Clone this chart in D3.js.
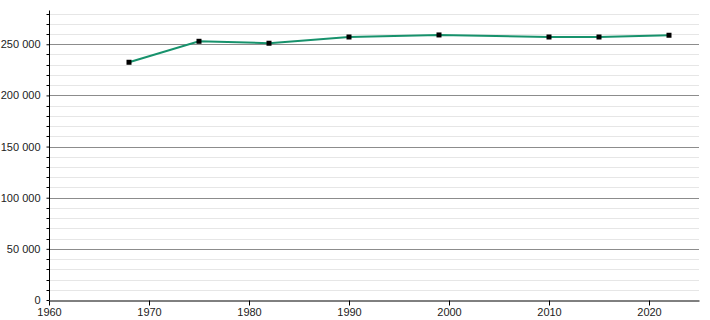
<!DOCTYPE html>
<html>
<head>
<meta charset="utf-8">
<script src="https://cdn.jsdelivr.net/npm/d3@7"></script>
<style>
    body { margin: 0; background: #fff; }
    text { font-family: "Liberation Sans", Arial, sans-serif; }
</style>
</head>
<body>
<div id="chart"></div>
<script>
// Population census values
const years = [1968, 1975, 1982, 1990, 1999, 2010, 2015, 2022];
const population = [232400, 252900, 251000, 257100, 259100, 257100, 257100, 258800];
const xTicks = [1960, 1970, 1980, 1990, 2000, 2010, 2020];
const yTicks = [0, 50000, 100000, 150000, 200000, 250000];

const width = 710, height = 320;
const margin = { top: 10.5, right: 11, bottom: 20, left: 49 };

const svg = d3.select('#chart')
    .append('svg')
    .attr('width', width)
    .attr('height', height);

const x = d3.scaleLinear()
    .domain([1960, 2025])
    .range([margin.left, width - margin.right]);

const y = d3.scaleLinear()
    .domain([0, 283000])
    .range([height - margin.bottom, margin.top]);

const fmt = v => d3.format(',')(v).replace(/,/g, ' ');

// Minor grid every 10 000
const minor = d3.range(10000, 283000, 10000).filter(v => v % 50000 !== 0);
svg.append('g')
    .selectAll('line')
    .data(minor)
    .join('line')
    .attr('x1', x(1960))
    .attr('x2', x(2025))
    .attr('y1', d => Math.round(y(d)) + 0.5)
    .attr('y2', d => Math.round(y(d)) + 0.5)
    .attr('stroke', '#e6e6e6')
    .attr('stroke-width', 1);

// Major grid
svg.append('g')
    .selectAll('line')
    .data(yTicks.filter(v => v > 0))
    .join('line')
    .attr('x1', x(1960))
    .attr('x2', x(2025))
    .attr('y1', d => Math.round(y(d)) + 0.5)
    .attr('y2', d => Math.round(y(d)) + 0.5)
    .attr('stroke', '#8c8c8c')
    .attr('stroke-width', 1);

// Y axis
const yAxis = svg.append('g')
    .attr('transform', `translate(${margin.left + 0.5},0)`)
    .call(d3.axisLeft(y).tickValues(yTicks).tickFormat(fmt).tickSize(3).tickPadding(6));
yAxis.select('.domain').attr('d', `M0,${margin.top}V${y(0)}`).attr('stroke', '#000');
yAxis.selectAll('text').attr('font-size', '11px').attr('fill', '#222').attr('font-family', '"Liberation Sans", Arial, sans-serif');

// minor y ticks
svg.append('g')
    .selectAll('line')
    .data(minor)
    .join('line')
    .attr('x1', margin.left - 2.5)
    .attr('x2', margin.left)
    .attr('y1', d => Math.round(y(d)) + 0.5)
    .attr('y2', d => Math.round(y(d)) + 0.5)
    .attr('stroke', '#000');

// X axis
const xAxis = svg.append('g')
    .attr('transform', `translate(0,${Math.round(y(0)) + 0.5})`)
    .call(d3.axisBottom(x).tickValues(xTicks).tickFormat(d3.format('d')).tickSize(5).tickSizeOuter(0).tickPadding(3));
xAxis.select('.domain').attr('stroke', '#000');
xAxis.selectAll('text').attr('font-size', '11px').attr('fill', '#222').attr('font-family', '"Liberation Sans", Arial, sans-serif');

// Line
const line = d3.line()
    .x((d, i) => x(years[i]))
    .y(d => y(d));

svg.append('path')
    .datum(population)
    .attr('d', line)
    .attr('fill', 'none')
    .attr('stroke', '#17926c')
    .attr('stroke-width', 2);

// Markers
svg.append('g')
    .selectAll('rect')
    .data(population)
    .join('rect')
    .attr('x', (d, i) => x(years[i]) - 2.5)
    .attr('y', d => y(d) - 2.5)
    .attr('width', 5)
    .attr('height', 5)
    .attr('fill', '#000');
</script>
</body>
</html>
